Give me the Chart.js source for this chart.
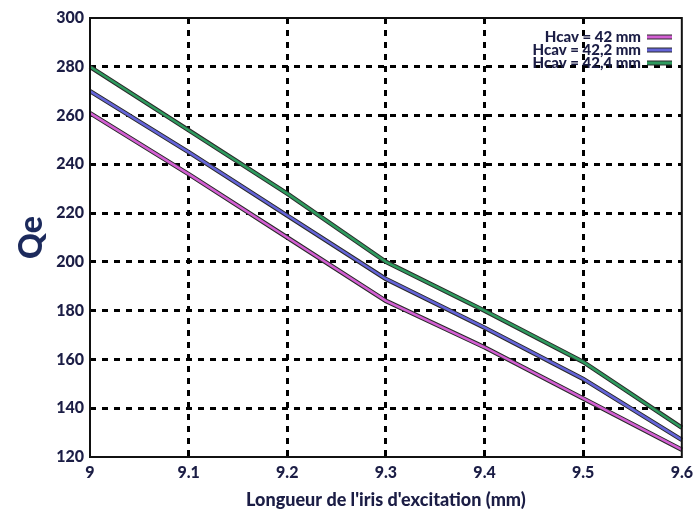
<!DOCTYPE html>
<html>
<head>
<meta charset="utf-8">
<script src="https://cdn.jsdelivr.net/npm/chart.js@4"></script>
<style>
  html, body { margin: 0; padding: 0; background: #fff; }
  #wrap { width: 699px; height: 512px; }
</style>
</head>
<body>
<div id="wrap"><canvas id="c" width="699" height="512"></canvas></div>
<script>
// values
const irisLength = ['9', '9.1', '9.2', '9.3', '9.4', '9.5', '9.6'];
const seriesNames = ['Hcav = 42 mm', 'Hcav = 42,2 mm', 'Hcav = 42,4 mm'];
const qe42 = [261, 236, 210, 184, 165, 144, 123];
const qe422 = [270, 245, 219, 193, 173, 152, 127];
const qe424 = [280, 254, 228, 200, 180, 159, 132];
const seriesColors = ['#d35fd3', '#6464d8', '#2e9a5e'];

const txt = '#1b1d45';
const font = "'Lato', 'DejaVu Sans', sans-serif";

const allSeries = [qe42, qe422, qe424];
var datasets = [];
// dark outline under each coloured line
allSeries.forEach((vals, i) => {
  datasets.push({
    label: '_edge' + i,
    data: vals,
    borderColor: '#2a2a2a',
    borderWidth: 4.5,
    pointRadius: 0,
    tension: 0,
    fill: false,
    order: 10 - i
  });
});
allSeries.forEach((vals, i) => {
  datasets.push({
    label: seriesNames[i],
    data: vals,
    borderColor: seriesColors[i],
    backgroundColor: seriesColors[i],
    borderWidth: 2.5,
    pointRadius: 0,
    tension: 0,
    fill: false,
    order: 5 - i
  });
});

// frame + legend drawn inside the plot, text left of the swatch
const frameLegend = {
  id: 'frameLegend',
  afterDraw(chart) {
    const ctx = chart.ctx;
    const a = chart.chartArea;
    ctx.save();
    ctx.strokeStyle = '#111';
    ctx.lineWidth = 2;
    ctx.strokeRect(a.left, a.top, a.right - a.left, a.bottom - a.top);

    ctx.font = '900 15px ' + font;
    ctx.textAlign = 'right';
    ctx.textBaseline = 'middle';
    const ys = [37, 50, 63];
    seriesNames.forEach((name, i) => {
      const y = ys[i];
      ctx.fillStyle = txt;
      ctx.fillText(name, 641, y);
      ctx.lineWidth = 5;
      ctx.strokeStyle = '#2a2a2a';
      ctx.beginPath(); ctx.moveTo(647, y); ctx.lineTo(672, y); ctx.stroke();
      ctx.lineWidth = 3;
      ctx.strokeStyle = seriesColors[i];
      ctx.beginPath(); ctx.moveTo(647, y); ctx.lineTo(672, y); ctx.stroke();
    });
    ctx.restore();
  }
};

new Chart(document.getElementById('c').getContext('2d'), {
  type: 'line',
  data: { labels: irisLength, datasets: datasets },
  plugins: [frameLegend],
  options: {
    responsive: false,
    animation: false,
    layout: { padding: { left: 0, right: 15, top: 18, bottom: 0 } },
    plugins: {
      legend: { display: false },
      tooltip: { enabled: false }
    },
    scales: {
      x: {
        type: 'category',
        offset: false,
        afterFit: (s) => { s.height = 55; },
        grid: {
          color: (c) => (c.index === 0 || c.index === irisLength.length - 1) ? 'rgba(0,0,0,0)' : '#000',
          lineWidth: 3,
          drawTicks: false
        },
        border: { display: false, dash: [6, 6] },
        ticks: { color: txt, font: { family: font, size: 16, weight: '900' }, padding: 6, maxRotation: 0 },
        title: {
          display: true,
          text: "Longueur de l'iris d'excitation (mm)",
          color: txt,
          font: { family: font, size: 18, weight: '900' },
          padding: { top: 12, bottom: 1 }
        }
      },
      y: {
        min: 120,
        max: 300,
        afterFit: (s) => { s.width = 90; },
        grid: {
          color: (c) => (c.tick.value === 120 || c.tick.value === 300) ? 'rgba(0,0,0,0)' : '#000',
          lineWidth: 3,
          drawTicks: false
        },
        border: { display: false, dash: [6, 6] },
        ticks: { stepSize: 20, color: txt, font: { family: font, size: 16, weight: '900' }, padding: 6 },
        title: {
          display: true,
          text: 'Qe',
          color: '#1c2a5c',
          font: { family: font, size: 32, weight: '900' },
          padding: { top: 12, bottom: 10 }
        }
      }
    }
  }
});
</script>
</body>
</html>
